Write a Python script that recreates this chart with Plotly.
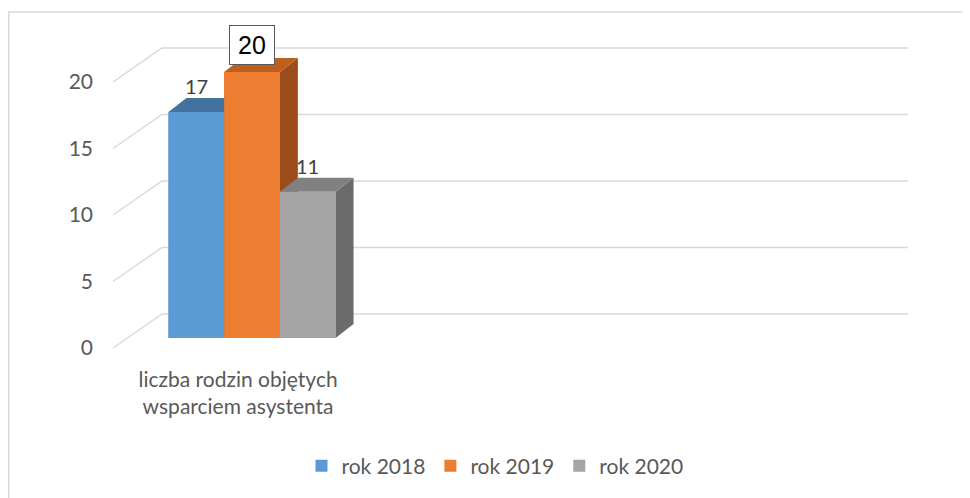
import plotly.graph_objects as go

# ---------------- data ----------------
categories = ["liczba rodzin objętych<br>wsparciem asystenta"]
series_names = ["rok 2018", "rok 2019", "rok 2020"]
values = [17, 20, 11]
y_ticks = [0, 5, 10, 15, 20]
y_tick_labels = ["0", "5", "10", "15", "20"]

# ---------------- style ----------------
front_colors = ["#5B9BD5", "#ED7D31", "#A5A5A5"]
top_colors = ["#44729F", "#BE5F20", "#808080"]
side_colors = ["#3D6690", "#9C4C1A", "#6B6B6B"]
grid_color = "#D9D9D9"
text_color = "#595959"
FONT = "Lato"

# ---------------- geometry ----------------
# the page body has an 8px default margin, so the figure is 8px smaller
# on each side and every window-pixel position is shifted by 8px
OFF = 8
W, H = 970 - OFF, 498 - OFF


def px(v):
    return v - OFF


ML, MR, MT = px(96), 0, 0
PLOT_BOTTOM = px(360)
MB = H - PLOT_BOTTOM
PLOT_H = PLOT_BOTTOM - MT
PLOT_W = W - ML - MR
X_UNIT = 55.7      # px per bar width
Y_UNIT = 13.3      # px per value unit
X0_PX = px(252)    # pixel of the middle bar centre
Y0_PX = px(348)    # pixel of the front floor edge (value 0)

x_range = [(ML - X0_PX) / X_UNIT, (W - MR - X0_PX) / X_UNIT]
y_range = [(Y0_PX - PLOT_BOTTOM) / Y_UNIT, (Y0_PX - MT) / Y_UNIT]

BASE = 10 / Y_UNIT          # bars sit a little behind the front floor edge
DX = 18 / X_UNIT            # bar depth
DY = 14 / Y_UNIT
SIDE_X0 = (px(113) - X0_PX) / X_UNIT
SIDE_X1 = (px(162) - X0_PX) / X_UNIT
WALL_DY = 34 / Y_UNIT
GRID_X1 = (px(908) - X0_PX) / X_UNIT
offsets = [-1, 0, 1]
CAT_X = -0.25

fig = go.Figure()

# back wall gridlines + side wall diagonals
gx, gy = [], []
for v in y_ticks:
    gx += [SIDE_X0, SIDE_X1, GRID_X1, None]
    gy += [v, v + WALL_DY, v + WALL_DY, None]
fig.add_trace(go.Scatter(x=gx, y=gy, mode="lines",
                         line=dict(color=grid_color, width=1.4),
                         hoverinfo="skip", showlegend=False))

# native bars (legend + base layer)
for name, val, off, col in zip(series_names, values, offsets, front_colors):
    fig.add_trace(go.Bar(x=[off], y=[val], base=BASE, width=1, name=name,
                         marker=dict(color=col, line=dict(width=0)),
                         hoverinfo="skip"))

# 3D faces
for name, val, off, fc, tc, sc in zip(series_names, values, offsets,
                                      front_colors, top_colors, side_colors):
    l, r = off - 0.5, off + 0.5
    b, t = BASE, BASE + val
    fig.add_trace(go.Scatter(x=[r, r, r + DX, r + DX, r],
                             y=[b, t, t + DY, b + DY, b],
                             mode="lines", fill="toself", fillcolor=sc,
                             line=dict(width=0, color=sc),
                             hoverinfo="skip", showlegend=False))
    fig.add_trace(go.Scatter(x=[l, r, r + DX, l + DX, l],
                             y=[t, t, t + DY, t + DY, t],
                             mode="lines", fill="toself", fillcolor=tc,
                             line=dict(width=0, color=tc),
                             hoverinfo="skip", showlegend=False))
    fig.add_trace(go.Scatter(x=[l, r, r, l, l],
                             y=[b, b, t, t, b],
                             mode="lines", fill="toself", fillcolor=fc,
                             line=dict(width=0, color=fc),
                             hoverinfo="skip", showlegend=False))

# data labels
for val, off in zip(values, offsets):
    top_y = BASE + val + DY
    if val == max(values):
        fig.add_annotation(x=off, y=top_y, xref="x", yref="y", text=str(val),
                           showarrow=False, yanchor="bottom", yshift=-7,
                           font=dict(family="Liberation Sans, Arial", size=25, color="#000000"),
                           bgcolor="#FFFFFF", bordercolor="#595959", borderwidth=1,
                           borderpad=5, width=34)
    else:
        fig.add_annotation(x=off, y=top_y, xref="x", yref="y", text=str(val),
                           showarrow=False, yanchor="bottom", yshift=-2,
                           font=dict(family=FONT, size=20, color="#404040"))

# chart frame
fig.add_shape(type="rect", xref="paper", yref="paper",
              x0=(0.75 - ML) / PLOT_W, x1=(W + 20 - ML) / PLOT_W,
              y0=(PLOT_BOTTOM - (H + 20)) / PLOT_H, y1=(PLOT_BOTTOM - px(12)) / PLOT_H,
              line=dict(color=grid_color, width=1.5), fillcolor="rgba(0,0,0,0)",
              layer="below")

fig.update_layout(
    width=W, height=H,
    margin=dict(l=ML, r=MR, t=MT, b=MB, pad=0),
    paper_bgcolor="#FFFFFF", plot_bgcolor="rgba(0,0,0,0)",
    barmode="overlay",
    showlegend=True,
    legend=dict(orientation="h", x=(px(495) - ML) / PLOT_W, xanchor="center",
                y=(PLOT_BOTTOM - px(466)) / PLOT_H, yanchor="middle",
                font=dict(family=FONT, size=21, color=text_color),
                itemwidth=30, traceorder="normal", bgcolor="rgba(0,0,0,0)"),
    xaxis=dict(range=x_range, showgrid=False, zeroline=False, showline=False,
               tickmode="array", tickvals=[CAT_X], ticktext=categories,
               ticks="", ticklabelstandoff=5,
               tickfont=dict(family=FONT, size=21, color=text_color),
               fixedrange=True),
    yaxis=dict(range=y_range, showgrid=False, zeroline=False, showline=False,
               tickmode="array", tickvals=y_ticks, ticktext=y_tick_labels,
               ticks="", ticklabelstandoff=2,
               tickfont=dict(family=FONT, size=21, color=text_color),
               fixedrange=True),
    font=dict(family=FONT, color=text_color),
)

fig.write_html("out.html")
